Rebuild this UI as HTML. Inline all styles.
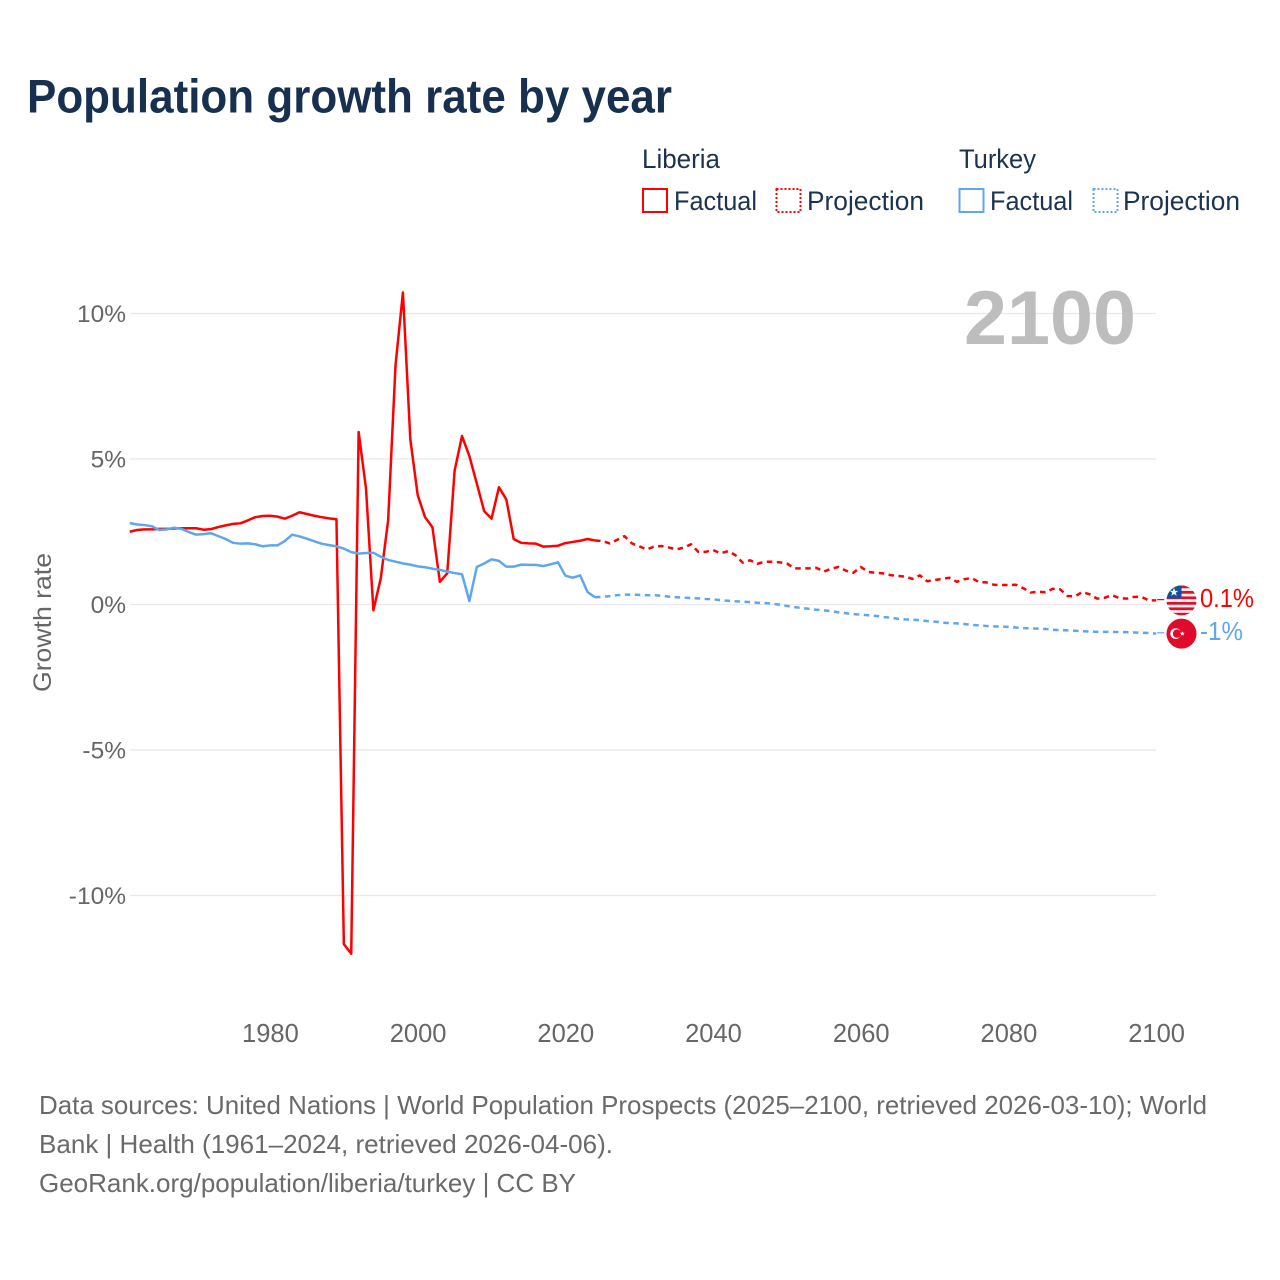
<!DOCTYPE html>
<html lang="en">
<head>
<meta charset="utf-8">
<title>Population growth rate by year</title>
<style>
html,body{margin:0;padding:0;background:#fff;width:1280px;height:1280px;overflow:hidden}
svg{display:block;font-family:"Liberation Sans",sans-serif}
</style>
</head>
<body>
<svg id="chart" xmlns="http://www.w3.org/2000/svg" width="1280" height="1280" viewBox="0 0 1280 1280">
  <defs>
    <clipPath id="flag-clip"><circle cx="0" cy="0" r="15"/></clipPath>
  </defs>
  <text x="27" y="112.5" font-size="47" font-weight="700" fill="#18304f" textLength="645" lengthAdjust="spacingAndGlyphs">Population growth rate by year</text>

  <g font-size="26.5" fill="#1c3350">
    <text x="642" y="168" textLength="78" lengthAdjust="spacingAndGlyphs">Liberia</text>
    <text x="959" y="168" textLength="77" lengthAdjust="spacingAndGlyphs">Turkey</text>
    <g>
      <rect x="643" y="189" width="24" height="23" fill="none" stroke="#ff0000" stroke-width="2"/>
      <text x="674" y="210" textLength="83" lengthAdjust="spacingAndGlyphs">Factual</text>
    </g>
    <g>
      <rect x="776.5" y="189" width="24" height="23" fill="none" stroke="#ff0000" stroke-width="2" stroke-dasharray="2 2"/>
      <text x="807" y="210" textLength="117" lengthAdjust="spacingAndGlyphs">Projection</text>
    </g>
    <g>
      <rect x="959.5" y="189" width="24" height="23" fill="none" stroke="#5fa6ee" stroke-width="2"/>
      <text x="990" y="210" textLength="83" lengthAdjust="spacingAndGlyphs">Factual</text>
    </g>
    <g>
      <rect x="1093.5" y="189" width="24" height="23" fill="none" stroke="#5fa6ee" stroke-width="2" stroke-dasharray="2 2"/>
      <text x="1123" y="210" textLength="117" lengthAdjust="spacingAndGlyphs">Projection</text>
    </g>
  </g>

  <g id="grid"></g>
  <text x="964" y="344" font-size="76" font-weight="700" fill="#bdbdbd" textLength="172" lengthAdjust="spacingAndGlyphs">2100</text>
  <g id="y-ticks"></g>
  <g id="x-ticks"></g>
  <text transform="translate(51 622.5) rotate(-90)" text-anchor="middle" font-size="25" fill="#666666" textLength="139" lengthAdjust="spacingAndGlyphs">Growth rate</text>
  <g id="series"></g>

  <g id="flag-liberia">
    <g clip-path="url(#flag-clip)">
      <rect x="-15" y="-15" width="30" height="30" fill="#f2f2f2"/>
      <rect x="-15" y="-15" width="30" height="2.8" fill="#d8152f"/>
      <rect x="-15" y="-9.5" width="30" height="2.8" fill="#d8152f"/>
      <rect x="-15" y="-4" width="30" height="2.8" fill="#d8152f"/>
      <rect x="-15" y="1.5" width="30" height="2.8" fill="#d8152f"/>
      <rect x="-15" y="7" width="30" height="2.8" fill="#d8152f"/>
      <rect x="-15" y="12.4" width="30" height="2.8" fill="#d8152f"/>
      <rect x="-15" y="-15" width="15" height="13" fill="#11509e"/>
      <polygon points="-7.5,-12.5 -6.3,-9.6 -3.2,-9.6 -5.7,-7.7 -4.8,-4.7 -7.5,-6.4 -10.2,-4.7 -9.3,-7.7 -11.8,-9.6 -8.7,-9.6" fill="#f2f2f2"/>
    </g>
  </g>
  <g id="flag-turkey">
    <circle cx="0" cy="0" r="15" fill="#e00a2b"/>
    <circle cx="-5.8" cy="0" r="5.4" fill="#ffffff"/>
    <circle cx="-4.4" cy="0" r="4.2" fill="#e00a2b"/>
    <polygon points="0.8,-2.4 1.5,-0.8 3.2,-0.8 1.9,0.3 2.3,2 0.8,1.1 -0.7,2 -0.3,0.3 -1.6,-0.8 0.1,-0.8" fill="#ffffff"/>
  </g>
  <text id="label-liberia" x="1200" font-size="25.5" fill="#ff0000" textLength="54" lengthAdjust="spacingAndGlyphs"></text>
  <text id="label-turkey" x="1200" font-size="25.5" fill="#5fa6ee" textLength="43" lengthAdjust="spacingAndGlyphs"></text>

  <g font-size="26" fill="#6a6a6a">
    <text x="39" y="1114" textLength="1168" lengthAdjust="spacingAndGlyphs">Data sources: United Nations | World Population Prospects (2025–2100, retrieved 2026-03-10); World</text>
    <text x="39" y="1153" textLength="574" lengthAdjust="spacingAndGlyphs">Bank | Health (1961–2024, retrieved 2026-04-06).</text>
    <text x="39" y="1192" textLength="537" lengthAdjust="spacingAndGlyphs">GeoRank.org/population/liberia/turkey | CC BY</text>
  </g>
</svg>
<script>
const years = [
1961,1962,1963,1964,1965,1966,1967,1968,1969,1970,
1971,1972,1973,1974,1975,1976,1977,1978,1979,1980,
1981,1982,1983,1984,1985,1986,1987,1988,1989,1990,
1991,1992,1993,1994,1995,1996,1997,1998,1999,2000,
2001,2002,2003,2004,2005,2006,2007,2008,2009,2010,
2011,2012,2013,2014,2015,2016,2017,2018,2019,2020,
2021,2022,2023,2024,2025,2026,2027,2028,2029,2030,
2031,2032,2033,2034,2035,2036,2037,2038,2039,2040,
2041,2042,2043,2044,2045,2046,2047,2048,2049,2050,
2051,2052,2053,2054,2055,2056,2057,2058,2059,2060,
2061,2062,2063,2064,2065,2066,2067,2068,2069,2070,
2071,2072,2073,2074,2075,2076,2077,2078,2079,2080,
2081,2082,2083,2084,2085,2086,2087,2088,2089,2090,
2091,2092,2093,2094,2095,2096,2097,2098,2099,2100];
const liberiaValues = [
2.50,2.56,2.58,2.58,2.60,2.60,2.61,2.62,2.62,2.62,
2.57,2.59,2.66,2.72,2.77,2.79,2.89,3.00,3.04,3.05,
3.02,2.95,3.05,3.17,3.11,3.05,3.00,2.96,2.93,-11.67,
-12.0,5.93,3.99,-0.20,0.90,2.90,8.23,10.72,5.68,3.76,
3.00,2.65,0.78,1.07,4.60,5.79,5.10,4.16,3.21,2.95,
4.03,3.61,2.25,2.12,2.10,2.09,1.99,2.00,2.02,2.11,
2.15,2.19,2.25,2.20,2.18,2.10,2.22,2.35,2.10,2.00,
1.89,1.99,2.01,1.96,1.89,1.95,2.07,1.81,1.81,1.87,
1.76,1.83,1.70,1.44,1.52,1.40,1.47,1.47,1.45,1.41,
1.24,1.24,1.24,1.26,1.13,1.23,1.29,1.16,1.09,1.29,
1.12,1.09,1.07,1.01,0.98,0.96,0.88,1.00,0.80,0.84,
0.88,0.92,0.78,0.87,0.91,0.77,0.76,0.68,0.67,0.67,
0.68,0.56,0.41,0.44,0.42,0.54,0.52,0.29,0.28,0.43,
0.35,0.20,0.23,0.32,0.22,0.20,0.26,0.26,0.14,0.14];
const turkeyValues = [
2.80,2.75,2.73,2.69,2.56,2.58,2.64,2.60,2.49,2.40,
2.42,2.45,2.35,2.25,2.12,2.09,2.10,2.07,2.00,2.03,
2.03,2.18,2.40,2.34,2.26,2.17,2.09,2.04,2.00,1.92,
1.80,1.75,1.77,1.78,1.64,1.53,1.47,1.41,1.37,1.31,
1.28,1.23,1.19,1.13,1.08,1.04,0.12,1.29,1.41,1.55,
1.50,1.30,1.30,1.37,1.36,1.36,1.32,1.38,1.45,0.99,
0.92,1.00,0.43,0.25,0.26,0.29,0.32,0.34,0.34,0.33,
0.32,0.32,0.30,0.27,0.25,0.24,0.22,0.21,0.19,0.18,
0.15,0.13,0.11,0.10,0.08,0.06,0.05,0.03,-0.01,-0.05,
-0.09,-0.12,-0.15,-0.18,-0.20,-0.23,-0.27,-0.30,-0.33,-0.35,
-0.37,-0.39,-0.43,-0.45,-0.49,-0.51,-0.52,-0.54,-0.57,-0.59,
-0.62,-0.64,-0.65,-0.67,-0.70,-0.72,-0.74,-0.75,-0.76,-0.77,
-0.79,-0.81,-0.82,-0.83,-0.84,-0.87,-0.88,-0.89,-0.90,-0.92,
-0.93,-0.94,-0.94,-0.94,-0.95,-0.95,-0.96,-0.97,-0.98,-1.00];
const lastFactualYear = 2024;
const xTickYears = [1980,2000,2020,2040,2060,2080,2100];
const yTickValues = [10,5,0,-5,-10];
const yTickLabels = ["10%","5%","0%","-5%","-10%"];
const endLabels = ["0.1%","-1%"];

const NS = 'http://www.w3.org/2000/svg';
function xScale(year){ return 417.7 + (year - 2000) * 7.385; }
function yScale(value){ return 604.5 - value * 29.1; }
function linePath(values, test){
  const pts = [];
  years.forEach(function(yr, i){
    if (test(yr)) pts.push(xScale(yr).toFixed(2) + ',' + yScale(values[i]).toFixed(2));
  });
  return 'M' + pts.join('L');
}
function addLine(values, test, color, dashed, name){
  const p = document.createElementNS(NS, 'path');
  
  
  p.setAttribute('d', linePath(values, test));
  p.setAttribute('fill', 'none');
  p.setAttribute('stroke', color);
  p.setAttribute('stroke-width', dashed ? '2.5' : '2.5');
  p.setAttribute('stroke-linejoin', 'round');
  if (dashed) p.setAttribute('stroke-dasharray', '5.5 4.5');
  document.getElementById('series').appendChild(p);
}
yTickValues.forEach(function(v, i){
  const line = document.createElementNS(NS, 'line');
  
  
  line.setAttribute('x1', 130);
  line.setAttribute('x2', 1156);
  line.setAttribute('y1', yScale(v));
  line.setAttribute('y2', yScale(v));
  line.setAttribute('stroke', '#e8e8e8');
  line.setAttribute('stroke-width', '1.3');
  document.getElementById('grid').appendChild(line);
  const t = document.createElementNS(NS, 'text');
  
  
  t.setAttribute('x', 126);
  t.setAttribute('y', yScale(v) + 8.5);
  t.setAttribute('text-anchor', 'end');
  t.setAttribute('font-size', '24.5');
  t.setAttribute('fill', '#666666');
  t.textContent = yTickLabels[i];
  document.getElementById('y-ticks').appendChild(t);
});
xTickYears.forEach(function(yr){
  const t = document.createElementNS(NS, 'text');
  
  
  t.setAttribute('x', xScale(yr) + 0.4);
  t.setAttribute('y', 1042);
  t.setAttribute('text-anchor', 'middle');
  t.setAttribute('font-size', '25.5');
  t.setAttribute('fill', '#666666');
  t.textContent = yr;
  document.getElementById('x-ticks').appendChild(t);
});
const isFactual = function(y){ return y <= lastFactualYear; };
const isProjection = function(y){ return y >= lastFactualYear; };
addLine(liberiaValues, isFactual, '#ff0000', false, 'liberia-factual-line');
addLine(liberiaValues, isProjection, '#ff0000', true, 'liberia-projection-line');
addLine(turkeyValues, isFactual, '#5fa6ee', false, 'turkey-factual-line');
addLine(turkeyValues, isProjection, '#5fa6ee', true, 'turkey-projection-line');

function placeEnd(values, color, flagId, labelId, text, connectorName){
  const endY = yScale(values[values.length - 1]);
  const endX = xScale(years[years.length - 1]);
  const c = document.createElementNS(NS, 'line');
  
  
  c.setAttribute('x1', endX + 1);
  c.setAttribute('x2', endX + 8);
  c.setAttribute('y1', endY - 0.8);
  c.setAttribute('y2', endY - 0.8);
  c.setAttribute('stroke', color);
  c.setAttribute('stroke-width', '1.2');
  document.getElementById('series').appendChild(c);
  document.getElementById(flagId).setAttribute('transform', 'translate(1181.5 ' + endY + ')');
  const l = document.getElementById(labelId);
  l.setAttribute('y', endY + 6.5);
  l.textContent = text;
}
placeEnd(liberiaValues, '#ff0000', 'flag-liberia', 'label-liberia', endLabels[0], 'liberia-connector');
placeEnd(turkeyValues, '#5fa6ee', 'flag-turkey', 'label-turkey', endLabels[1], 'turkey-connector');
</script>
</body>
</html>
